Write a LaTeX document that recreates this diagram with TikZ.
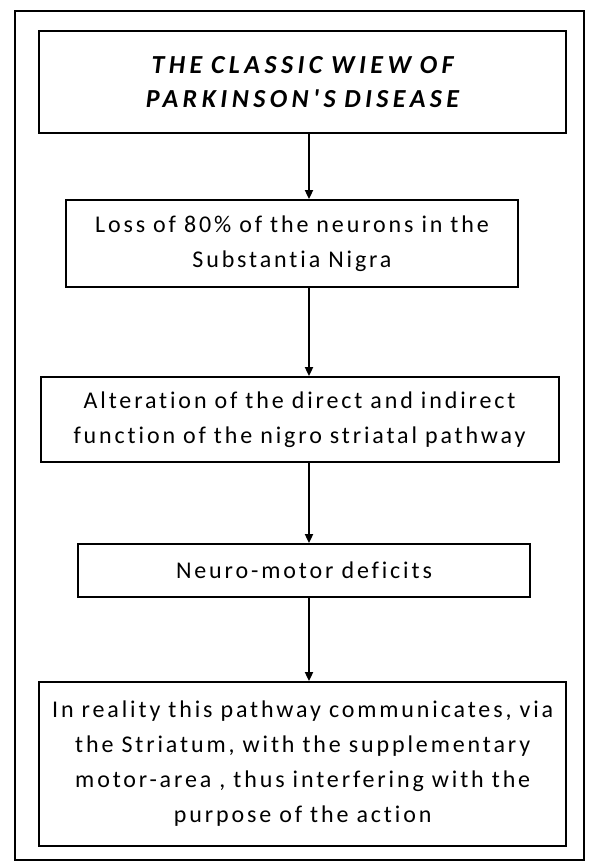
\documentclass[tikz,border=0pt]{standalone}
\usepackage{fontspec}
\setmainfont{Carlito}[LetterSpace=12,Ligatures=NoCommon]
\newfontfamily\titlefont{Carlito}[LetterSpace=17,Ligatures=NoCommon]
\usetikzlibrary{positioning,arrows.meta}

\begin{document}
\begin{tikzpicture}[x=1pt,y=-1pt,line width=1.8pt,
  font=\fontsize{24}{35}\selectfont,
  box/.style={draw,align=center,inner sep=0pt},
  arr/.style={-{Triangle[length=9pt,width=8pt]}}]
\useasboundingbox (0,0) rectangle (589,865);
\draw (15,11) rectangle (584,860);
\node[box,minimum width=527pt,minimum height=102pt,text width=515pt,
  font=\titlefont\fontsize{26}{34}\selectfont\bfseries\itshape] (title) at (302.5,82)
  {THE CLASSIC WIEW OF\\PARKINSON'S DISEASE};
\node[box,minimum width=452pt,minimum height=87pt,text width=445pt] (loss) at (292,243.5)
  {Loss of 80\% of the neurons in the\\Substantia Nigra};
\node[box,minimum width=518pt,minimum height=85pt,text width=510pt] (alter) at (299.6,419.5)
  {Alteration of the direct and indirect\\function of the nigro striatal pathway};
\node[box,minimum width=452pt,minimum height=53pt,text width=445pt] (deficit) at (304,570.5)
  {Neuro-motor deficits};
\node[box,minimum width=527pt,minimum height=164pt,text width=522pt] (reality) at (302.7,764)
  {In reality this pathway communicates, via\\the Striatum, with the supplementary\\motor-area , thus interfering with the\\purpose of the action};
\coordinate (axis) at (309,0);
\draw[arr] (title.south -| axis) -- (loss.north -| axis);
\draw[arr] (loss.south -| axis) -- (alter.north -| axis);
\draw[arr] (alter.south -| axis) -- (deficit.north -| axis);
\draw[arr] (deficit.south -| axis) -- (reality.north -| axis);
\end{tikzpicture}
\end{document}
